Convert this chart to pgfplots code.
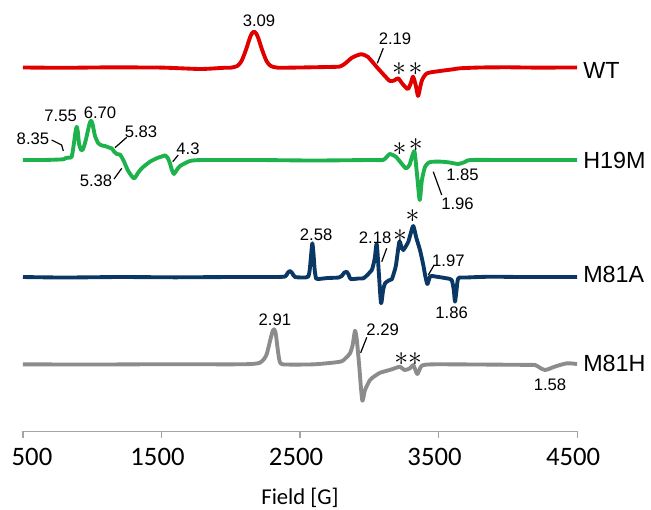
\documentclass[border=0pt]{standalone}
\usepackage{fontspec}
\setmainfont{Carlito}
\newfontfamily\arial{Liberation Sans}
\usepackage{pgfplots}
\pgfplotsset{compat=1.18}
\definecolor{cWT}{RGB}{225,0,0}
\definecolor{cH}{RGB}{30,178,76}
\definecolor{cA}{RGB}{10,55,100}
\definecolor{cM}{RGB}{140,140,140}
\definecolor{axg}{RGB}{165,165,165}
\newcommand{\ann}{\arial\fontsize{12.5}{13}\selectfont}
\newcommand{\lab}{\arial\fontsize{17.5}{18}\selectfont}
\newcommand{\st}{\fontsize{20}{20}\selectfont$\ast$}
\begin{document}
\begin{tikzpicture}
\begin{axis}[
  width=415.5pt, height=323.25pt, scale only axis,
  xmin=500, xmax=4500, ymin=-431, ymax=0,
  axis x line=bottom, axis y line=none,
  x axis line style={-, draw=axg, line width=0.8pt},
  xtick={500,1500,2500,3500,4500},
  xticklabels={\hspace*{19.5pt}500,1500,2500,3500,4500},
  scaled x ticks=false,
  tick align=outside, major tick length=5.25pt,
  tick style={draw=axg, line width=0.8pt},
  xticklabel style={font=\fontsize{20}{20}\selectfont, anchor=base, yshift=-20.5pt, xshift=-3pt},
  clip=false,
  every axis plot/.append style={line width=2.9pt, line join=round, smooth, tension=0.4},
]
% WT
\addplot[cWT] coordinates {
(500,-67.5)(800,-67.8)(1100,-67.4)(1500,-67.6)(1780,-69)(1950,-67.8)(2000,-67.7)
(2048,-65.9)(2078,-61)(2110,-49.7)(2138,-37.8)(2153,-33.4)(2168,-31.7)(2183,-33.4)(2198,-37.8)(2226,-49.7)(2258,-61)(2288,-65.9)(2340,-67.7)
(2500,-67.5)(2700,-67)(2789,-66.5)(2830,-63)(2875,-57.7)(2920,-55)(2948,-54.3)(2991,-57)(3060,-68)(3128,-78.3)(3150,-81)(3180,-80.5)(3208,-78.3)(3235,-83)(3258,-86.7)(3280,-89)(3300,-83)(3316,-76.7)(3335,-85)(3352,-96)(3368,-87)(3381,-80)(3417,-73.3)(3511,-71)(3605,-69.3)(3655,-68.3)(3800,-67.5)(4000,-67.3)(4200,-67.6)(4500,-67.5)
};
% H19M
\addplot[cH] coordinates {
(500,-160)(650,-160)(791,-159.3)(803,-158.3)(830,-157.5)(852,-156.7)(870,-141)(880,-131)(888,-126.7)(896,-132)(905,-144)(919,-150)(930,-150)(948,-143)(965,-133)(980,-124)(991,-120.7)(1002,-124)(1020,-136)(1044,-143.3)(1070,-145.5)(1092,-146)(1120,-147.5)(1140,-148.3)(1160,-152)(1177,-154)(1200,-154.5)(1224,-160)(1260,-171)(1301,-178.3)(1330,-173)(1357,-168.3)(1417,-161.7)(1470,-158)(1513,-156)(1526,-155.3)(1545,-158)(1561,-163.3)(1575,-170)(1590,-174)(1610,-170)(1634,-166)(1706,-161)(1800,-160)
(2200,-160)(2600,-160.5)(3000,-160)(3099,-160)(3125,-157)(3147,-154)(3170,-155)(3192,-156.7)(3230,-163)(3265,-168.3)(3290,-165)(3310,-156)(3327,-151.7)(3345,-175)(3364,-200)(3380,-180)(3403,-166.7)(3430,-162.5)(3462,-161.7)(3523,-161.7)(3580,-162.5)(3643,-164)(3690,-162)(3733,-160)(4000,-160)(4500,-160)
};
% M81A
\addplot[cA] coordinates {
(500,-277)(800,-277.5)(1200,-277)(1600,-277.3)(2000,-277)(2300,-277)(2392,-276.5)(2410,-273)(2428,-271)(2446,-273.5)(2464,-277)(2540,-277.5)(2560,-276.5)(2570,-270)(2580,-255)(2589,-243.3)(2598,-255)(2606,-270)(2616,-278.5)(2630,-279)(2700,-278)(2780,-277.5)(2801,-276)(2820,-272.5)(2837,-271.7)(2852,-275)(2866,-279)(2920,-278.5)(2957,-278.3)(2982,-275.5)(3018,-270)(3029,-265)(3040,-258)(3054,-244)(3070,-275)(3085,-303.3)(3100,-290)(3114,-283.3)(3140,-280.5)(3162,-279.3)(3180,-272)(3193,-265)(3217,-241.7)(3232,-247)(3246,-250)(3265,-246)(3282,-241.7)(3300,-233)(3318,-226)(3340,-238)(3366,-250)(3390,-265)(3403,-275)(3419,-284)(3432,-279)(3444,-276)(3487,-276.7)(3559,-278.3)(3595,-280)(3610,-290)(3619,-301.7)(3630,-290)(3643,-278.3)(3700,-277.5)(3872,-276.7)(4100,-277)(4300,-277)(4500,-277)
};
% M81H
\addplot[cM] coordinates {
(500,-364.3)(1000,-364.5)(1500,-364.2)(2000,-364.3)(2150,-364)(2211,-362.7)(2240,-359)(2260,-354)(2280,-343)(2300,-332)(2312,-329.3)(2324,-333)(2336,-346)(2348,-358)(2360,-363.5)(2400,-364.5)(2600,-364.3)(2789,-361.7)(2830,-358)(2861,-353.3)(2880,-345)(2897,-330.7)(2910,-340)(2928,-366.7)(2940,-388)(2950,-400.7)(2960,-396)(2969,-390)(3005,-380)(3040,-376)(3078,-372.7)(3120,-371)(3162,-369.3)(3222,-366.7)(3253,-370)(3294,-368.3)(3318,-365)(3347,-374)(3379,-365.7)(3462,-364.3)(3800,-364.5)(4100,-364.8)(4197,-365)(4235,-368)(4269,-370)(4305,-368.5)(4341,-366.5)(4426,-363.3)(4500,-364)
};
% annotations
\begin{scope}[every node/.style={inner sep=0pt, anchor=center}]
\node at (axis cs:2204,-21) {\ann 3.09};
\node at (axis cs:3186,-39) {\ann 2.19};
\draw[line width=0.9pt] (axis cs:3101,-48.3) -- (axis cs:3058,-63.3);
\node at (axis cs:3215,-69.3) {\st};
\node at (axis cs:3334,-69.3) {\st};
\node at (axis cs:572,-139) {\ann 8.35};
\draw[line width=0.9pt] (axis cs:707,-140) -- (axis cs:779,-145) -- (axis cs:791,-151);
\node at (axis cs:772,-116) {\ann 7.55};
\node at (axis cs:1056,-112.7) {\ann 6.70};
\node at (axis cs:1352,-131.7) {\ann 5.83};
\draw[line width=0.9pt] (axis cs:1164,-147.7) -- (axis cs:1249,-137.3);
\node at (axis cs:1027,-181) {\ann 5.38};
\draw[line width=0.9pt] (axis cs:1157,-179) -- (axis cs:1213,-168.3);
\node at (axis cs:1691,-148.3) {\ann 4.3};
\draw[line width=0.9pt] (axis cs:1581,-161.7) -- (axis cs:1621,-155);
\node at (axis cs:3218,-148.7) {\st};
\node at (axis cs:3335,-145.3) {\st};
\node at (axis cs:3673,-175) {\ann 1.85};
\node at (axis cs:3637,-203.3) {\ann 1.96};
\draw[line width=0.9pt] (axis cs:3462,-171.7) -- (axis cs:3523,-195);
\node at (axis cs:2616,-235) {\ann 2.58};
\node at (axis cs:3042,-237.3) {\ann 2.18};
\draw[line width=0.9pt] (axis cs:3126,-248.3) -- (axis cs:3090,-261.7);
\node at (axis cs:3222,-236) {\st};
\node at (axis cs:3312,-216) {\st};
\node at (axis cs:3571,-261) {\ann 1.97};
\draw[line width=0.9pt] (axis cs:3468,-265) -- (axis cs:3426,-275);
\node at (axis cs:3595,-312.3) {\ann 1.86};
\node at (axis cs:2319,-319.3) {\ann 2.91};
\node at (axis cs:3097,-330) {\ann 2.29};
\draw[line width=0.9pt] (axis cs:2982,-337.3) -- (axis cs:2938,-352.7);
\node at (axis cs:3231,-358.8) {\st};
\node at (axis cs:3330,-358.8) {\st};
\node at (axis cs:4305,-385) {\ann 1.58};
\node[anchor=west] at (axis cs:4543,-70.8) {\lab WT};
\node[anchor=west] at (axis cs:4543,-160.8) {\lab H19M};
\node[anchor=west] at (axis cs:4543,-274.7) {\lab M81A};
\node[anchor=west] at (axis cs:4543,-363.3) {\lab M81H};
\node[anchor=base] at (axis cs:2500,-504) {\fontsize{17}{17}\selectfont Field [G]};
\end{scope}
\coordinate (bbsw) at (axis cs:334,-509);
\coordinate (bbne) at (axis cs:5034,0);
\end{axis}
\pgfresetboundingbox
\path[use as bounding box] (bbsw) rectangle (bbne);
\end{tikzpicture}
\end{document}
